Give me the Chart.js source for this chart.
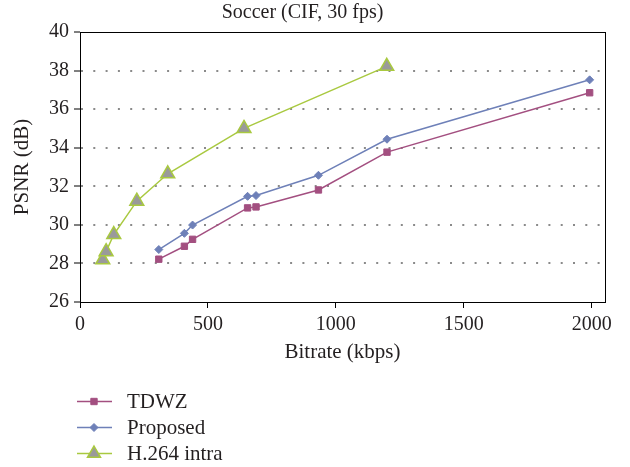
<!DOCTYPE html>
<html>
<head>
<meta charset="utf-8">
<script src="https://cdn.jsdelivr.net/npm/chart.js@4.4.1/dist/chart.umd.min.js"></script>
<style>
  html, body { margin: 0; padding: 0; background: #fff; }
  #wrap { width: 630px; height: 467px; position: relative; }
</style>
</head>
<body>
<div id="wrap"><canvas id="chart" width="630" height="467"></canvas></div>
<script>
// bitrate (kbps) / PSNR (dB)
const tdwzBitrate = [308, 408, 440, 655, 688, 932, 1200, 1992];
const tdwzPsnr = [28.22, 28.89, 29.25, 30.88, 30.93, 31.81, 33.77, 36.85];

const proposedBitrate = [308, 408, 440, 655, 688, 932, 1200, 1992];
const proposedPsnr = [28.72, 29.56, 29.99, 31.48, 31.52, 32.57, 34.44, 37.52];

const h264Bitrate = [89, 102, 132, 222, 343, 641, 1199];
const h264Psnr = [28.19, 28.61, 29.5, 31.23, 32.65, 35.0, 38.22];

const xTicks = [0, 500, 1000, 1500, 2000];
const yTicks = [26, 28, 30, 32, 34, 36, 38, 40];

const seriesNames = ['TDWZ', 'Proposed', 'H.264 intra'];

const FONT = "'Liberation Serif', 'DejaVu Serif', serif";
const TEXT = '#231f20';
const toPoints = (xs, ys) => xs.map((x, i) => ({ x: x, y: ys[i] }));

// frame round the plot area + legend under the chart
const framePlugin = {
    id: 'frame',
    afterDraw(chart) {
        const { ctx, chartArea: a } = chart;
        ctx.save();
        ctx.setLineDash([]);
        ctx.strokeStyle = '#000';
        ctx.lineWidth = 1;
        ctx.strokeRect(Math.round(a.left) + 0.5, Math.round(a.top) + 0.5,
            Math.round(a.right - a.left), Math.round(a.bottom - a.top));

        // legend
        chart.data.datasets.forEach((ds, i) => {
            const y = [401.5, 427.5, 453.5][i];
            ctx.strokeStyle = ds.borderColor;
            ctx.lineWidth = 1.5;
            ctx.beginPath();
            ctx.moveTo(77, y);
            ctx.lineTo(112, y);
            ctx.stroke();
            ctx.fillStyle = ds.pointBackgroundColor;
            ctx.strokeStyle = ds.pointBorderColor;
            ctx.lineWidth = ds.pointBorderWidth;
            Chart.helpers.drawPoint(ctx, {
                pointStyle: ds.pointStyle,
                radius: ds.legendRadius,
                rotation: 0,
                borderWidth: ds.pointBorderWidth
            }, 94, y);
            ctx.fillStyle = TEXT;
            ctx.font = "21px " + FONT;
            ctx.textBaseline = 'middle';
            ctx.fillText(ds.label, 127, y + 1);
        });
        ctx.restore();
    }
};

const ctx = document.getElementById('chart').getContext('2d');
new Chart(ctx, {
    type: 'line',
    data: {
        datasets: [
            {
                label: seriesNames[0],
                data: toPoints(tdwzBitrate, tdwzPsnr),
                borderColor: '#a34f80',
                backgroundColor: '#a34f80',
                pointBackgroundColor: '#a34f80',
                pointBorderColor: '#a34f80',
                pointStyle: 'rect',
                pointRadius: 4.5,
                legendRadius: 4.5,
                pointBorderWidth: 1,
                borderWidth: 1.5
            },
            {
                label: seriesNames[1],
                data: toPoints(proposedBitrate, proposedPsnr),
                borderColor: '#6e80b8',
                backgroundColor: '#6e80b8',
                pointBackgroundColor: '#6e80b8',
                pointBorderColor: '#6e80b8',
                pointStyle: 'rectRot',
                pointRadius: 4,
                legendRadius: 4,
                pointBorderWidth: 1,
                borderWidth: 1.5
            },
            {
                label: seriesNames[2],
                data: toPoints(h264Bitrate, h264Psnr),
                borderColor: '#a9c940',
                backgroundColor: '#9a9a9a',
                pointBackgroundColor: '#9a9a9a',
                pointBorderColor: '#a9c940',
                pointStyle: 'triangle',
                pointRadius: 8,
                legendRadius: 7.5,
                pointBorderWidth: 1.5,
                borderWidth: 1.5
            }
        ]
    },
    options: {
        responsive: false,
        animation: false,
        layout: { padding: { left: 0, right: 25, top: 0, bottom: 98 } },
        plugins: {
            legend: { display: false },
            tooltip: { enabled: false },
            title: {
                display: true,
                text: 'Soccer (CIF, 30 fps)',
                color: TEXT,
                font: { family: FONT, size: 20, weight: 'normal' },
                padding: { top: 1, bottom: 7 }
            }
        },
        scales: {
            x: {
                type: 'linear',
                min: 0,
                max: 2052,
                afterBuildTicks: axis => { axis.ticks = xTicks.map(v => ({ value: v })); },
                afterFit: axis => { axis.height = 67; },
                grid: {
                    drawOnChartArea: false,
                    drawTicks: true,
                    tickLength: 6,
                    tickColor: '#000'
                },
                border: { color: '#000' },
                ticks: {
                    color: TEXT,
                    font: { family: FONT, size: 20 },
                    padding: 5,
                    maxRotation: 0,
                    callback: v => String(v)
                },
                title: {
                    display: true,
                    text: 'Bitrate (kbps)',
                    color: TEXT,
                    font: { family: FONT, size: 21 },
                    padding: { top: 4, bottom: 4 }
                }
            },
            y: {
                min: 26,
                max: 40,
                afterBuildTicks: axis => { axis.ticks = yTicks.map(v => ({ value: v })); },
                afterFit: axis => { axis.width = 80; },
                grid: {
                    color: c => (c.tick && (c.tick.value === 26 || c.tick.value === 40)) ? 'rgba(0,0,0,0)' : '#8a8a8a',
                    lineWidth: 2,
                    drawTicks: true,
                    tickLength: 6,
                    tickColor: '#000',
                    tickBorderDash: [],
                    tickWidth: 1
                },
                border: { color: '#000', dash: [2, 10.3], dashOffset: 0 },
                ticks: {
                    color: TEXT,
                    font: { family: FONT, size: 20 },
                    padding: 5,
                    callback: v => String(v)
                },
                title: {
                    display: true,
                    text: 'PSNR (dB)',
                    color: TEXT,
                    font: { family: FONT, size: 21 },
                    padding: { top: 10, bottom: 10 }
                }
            }
        }
    },
    plugins: [framePlugin]
});
</script>
</body>
</html>
